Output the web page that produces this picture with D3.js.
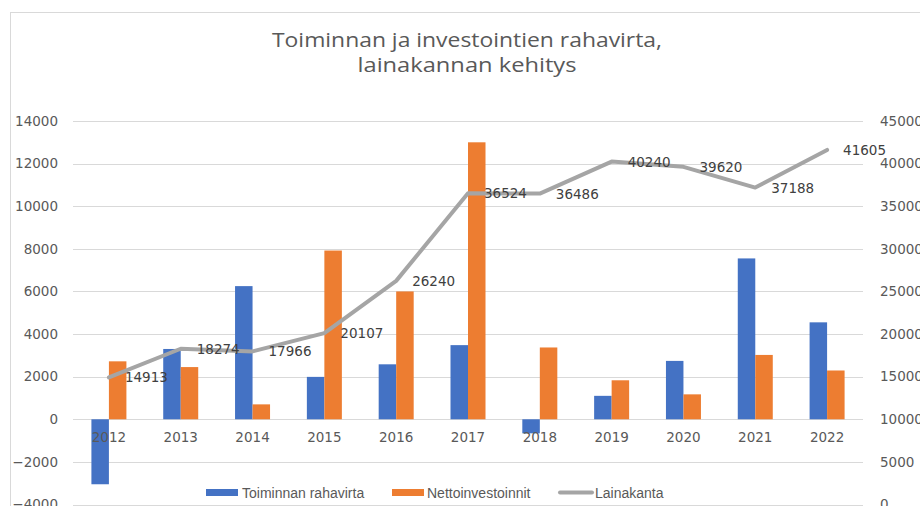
<!DOCTYPE html>
<html>
<head>
<meta charset="utf-8">
<script src="https://cdn.jsdelivr.net/npm/d3@7/dist/d3.min.js"></script>
<style>
  body { margin: 0; background: #fff; }
  svg { display: block; }
</style>
</head>
<body>
<div id="content"></div>
<script>
const years = ['2012', '2013', '2014', '2015', '2016', '2017', '2018', '2019', '2020', '2021', '2022'];
const toiminnanRahavirta = [-3050, 3300, 6250, 1990, 2580, 3480, -660, 1100, 2740, 7550, 4550];
const nettoinvestoinnit = [2720, 2450, 700, 7920, 6000, 13000, 3370, 1830, 1170, 3020, 2290];
const lainakanta = [14913, 18274, 17966, 20107, 26240, 36524, 36486, 40240, 39620, 37188, 41605];
const leftTicks = [-4000, -2000, 0, 2000, 4000, 6000, 8000, 10000, 12000, 14000];
const rightTicks = [0, 5000, 10000, 15000, 20000, 25000, 30000, 35000, 40000, 45000];
const seriesNames = ['Toiminnan rahavirta', 'Nettoinvestoinnit', 'Lainakanta'];
const titleLines = ['Toiminnan ja investointien rahavirta,', 'lainakannan kehitys'];

const width = 920;
const height = 506;
const blue = '#4472C4';
const orange = '#ED7D31';
const grey = '#A5A5A5';
const textGrey = '#595959';
const numFont = '"DejaVu Sans", sans-serif';

const svg = d3.select('#content')
  .append('svg')
  .attr('width', width)
  .attr('height', height);

// chart frame
svg.append('rect')
  .attr('x', 10.5)
  .attr('y', 12.5)
  .attr('width', 1000)
  .attr('height', 1000)
  .attr('fill', '#fff')
  .attr('stroke', '#D9D9D9');

// title (stretched to the width of the original narrow font)
const titleWidths = [390, 219];
titleLines.forEach((t, i) => {
  svg.append('text')
    .attr('x', 467)
    .attr('y', 47 + i * 25)
    .attr('text-anchor', 'middle')
    .attr('fill', textGrey)
    .attr('textLength', titleWidths[i])
    .attr('lengthAdjust', 'spacingAndGlyphs')
    .style('font-family', '"Open Sans", sans-serif')
    .style('font-size', '20px')
    .text(t);
});

const x = d3.scaleBand()
  .domain(years)
  .range([73, 863]);

const yLeft = d3.scaleLinear()
  .domain([-4000, 14000])
  .range([504.5, 121]);

const yRight = d3.scaleLinear()
  .domain([0, 45000])
  .range([504.5, 121]);

const xInner = d3.scaleBand()
  .domain([0, 1])
  .range([-17.5, 17.5]);

// gridlines
svg.append('g')
  .selectAll('line')
  .data(leftTicks)
  .enter()
  .append('line')
  .attr('x1', 73)
  .attr('x2', 863)
  .attr('y1', d => Math.round(yLeft(d)) + 0.5)
  .attr('y2', d => Math.round(yLeft(d)) + 0.5)
  .attr('stroke', '#D9D9D9')
  .attr('stroke-width', 1);

// left axis
const leftAxis = svg.append('g')
  .attr('transform', 'translate(58,0)')
  .call(d3.axisLeft(yLeft).tickValues(leftTicks).tickSize(0).tickPadding(0).tickFormat(d3.format('d')));
leftAxis.select('.domain').remove();
leftAxis.selectAll('text')
  .attr('fill', textGrey)
  .style('font-family', numFont)
  .style('font-size', '13.5px');

// right axis
const rightAxis = svg.append('g')
  .attr('transform', 'translate(880,0)')
  .call(d3.axisRight(yRight).tickValues(rightTicks).tickSize(0).tickPadding(0).tickFormat(d3.format('d')));
rightAxis.select('.domain').remove();
rightAxis.selectAll('text')
  .attr('fill', textGrey)
  .style('font-family', numFont)
  .style('font-size', '13.5px');

// bars
const barData = years.map((year, i) => ({ year, values: [toiminnanRahavirta[i], nettoinvestoinnit[i]] }));
const barColors = [blue, orange];

const groups = svg.append('g')
  .selectAll('g')
  .data(barData)
  .enter()
  .append('g')
  .attr('transform', d => `translate(${x(d.year) + x.bandwidth() / 2},0)`);

groups.selectAll('rect')
  .data(d => d.values.map((v, k) => ({ v, k })))
  .enter()
  .append('rect')
  .attr('x', d => xInner(d.k))
  .attr('width', xInner.bandwidth())
  .attr('y', d => yLeft(Math.max(0, d.v)))
  .attr('height', d => Math.abs(yLeft(d.v) - yLeft(0)))
  .attr('fill', d => barColors[d.k]);

// category labels
svg.append('g')
  .selectAll('text')
  .data(years)
  .enter()
  .append('text')
  .attr('x', d => x(d) + x.bandwidth() / 2)
  .attr('y', 441.5)
  .attr('text-anchor', 'middle')
  .attr('fill', textGrey)
  .style('font-family', numFont)
  .style('font-size', '13.5px')
  .text(d => d);

// line
const line = d3.line()
  .x((d, i) => x(years[i]) + x.bandwidth() / 2)
  .y(d => yRight(d));

svg.append('path')
  .datum(lainakanta)
  .attr('d', line)
  .attr('fill', 'none')
  .attr('stroke', grey)
  .attr('stroke-width', 4)
  .attr('stroke-linejoin', 'round')
  .attr('stroke-linecap', 'round');

// data labels for the line
svg.append('g')
  .selectAll('text')
  .data(lainakanta)
  .enter()
  .append('text')
  .attr('x', (d, i) => x(years[i]) + x.bandwidth() / 2 + 16)
  .attr('y', d => yRight(d) + 5)
  .attr('fill', '#404040')
  .style('font-family', numFont)
  .style('font-size', '13.5px')
  .text(d => d);

// legend
const legend = svg.append('g');
const legendItems = [
  { name: seriesNames[0], color: blue, type: 'bar', x0: 206, tx: 242 },
  { name: seriesNames[1], color: orange, type: 'bar', x0: 392, tx: 427 },
  { name: seriesNames[2], color: grey, type: 'line', x0: 558, tx: 595 }
];
legendItems.forEach((item) => {
  if (item.type === 'bar') {
    legend.append('rect')
      .attr('x', item.x0)
      .attr('y', 489)
      .attr('width', 32)
      .attr('height', 7)
      .attr('fill', item.color);
  } else {
    legend.append('line')
      .attr('x1', item.x0 + 2)
      .attr('x2', item.x0 + 34)
      .attr('y1', 492.5)
      .attr('y2', 492.5)
      .attr('stroke', item.color)
      .attr('stroke-width', 4)
      .attr('stroke-linecap', 'round');
  }
  legend.append('text')
    .attr('x', item.tx)
    .attr('y', 497.5)
    .attr('fill', textGrey)
    .style('font-family', '"Liberation Sans", Arial, sans-serif')
    .style('font-size', '14px')
    .text(item.name);
});
</script>
</body>
</html>
